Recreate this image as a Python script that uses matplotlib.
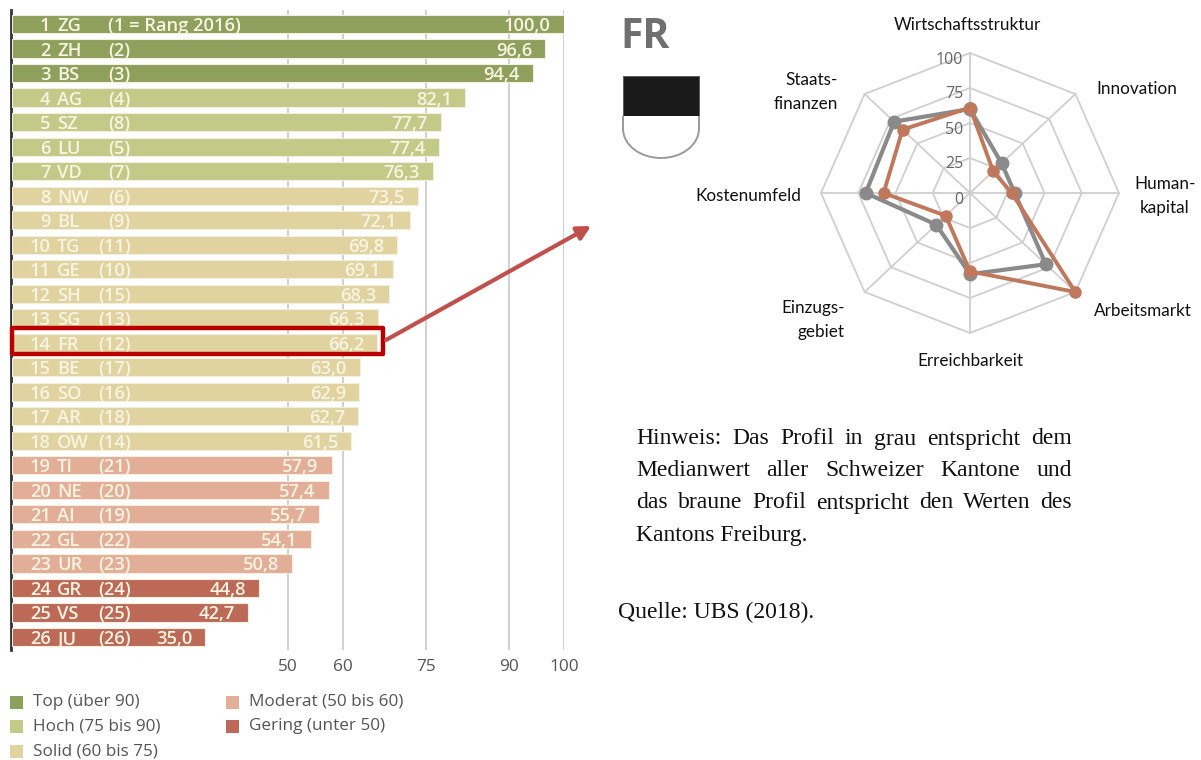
import matplotlib
matplotlib.use("Agg")
import matplotlib.pyplot as plt
import numpy as np
from matplotlib.patches import Rectangle, PathPatch
from matplotlib.path import Path

codes = ["ZG","ZH","BS","AG","SZ","LU","VD","NW","BL","TG","GE","SH","SG","FR","BE","SO","AR","OW","TI","NE","AI","GL","UR","GR","VS","JU"]
prev_ranks = [1,2,3,4,8,5,7,6,9,11,10,15,13,12,17,16,18,14,21,20,19,22,23,24,25,26]
values = [100.0,96.6,94.4,82.1,77.7,77.4,76.3,73.5,72.1,69.8,69.1,68.3,66.3,66.2,63.0,62.9,62.7,61.5,57.9,57.4,55.7,54.1,50.8,44.8,42.7,35.0]
x_ticks = [50,60,75,90,100]

legend_labels = ["Top (über 90)","Hoch (75 bis 90)","Solid (60 bis 75)","Moderat (50 bis 60)","Gering (unter 50)"]
legend_colors = ["#8F9F5C","#C3C986","#E0D39F","#E3AE97","#BC6A57"]

radar_labels = ["Wirtschaftsstruktur","Innovation","Human-\nkapital","Arbeitsmarkt","Erreichbarkeit","Einzugs-\ngebiet","Kostenumfeld","Staats-\nfinanzen"]
median_profile = [60,30,30,72,58,32,70,72]
fr_profile = [61,22,28,100,56,23,58,64]
radar_ticks = [0,25,50,75,100]

note_lines = ["Hinweis: Das Profil in grau entspricht dem",
              "Medianwert aller Schweizer Kantone und",
              "das braune Profil entspricht den Werten des",
              "Kantons Freiburg."]
source = "Quelle: UBS (2018)."

W, H = 1201, 760
PX = 72/100
fig = plt.figure(figsize=(W/100, H/100), dpi=100, facecolor="white")
def rect(l, t, r, b):
    return [l/W, 1-b/H, (r-l)/W, (b-t)/H]

# ---------- bars
ax = fig.add_axes(rect(12, 10, 564, 650))
pitch = 24.52
ax.set_xlim(0, 100)
ax.set_ylim((650-24)/pitch, (10-24)/pitch)
def colour(v):
    if v > 90: return legend_colors[0]
    if v >= 75: return legend_colors[1]
    if v >= 60: return legend_colors[2]
    if v >= 50: return legend_colors[3]
    return legend_colors[4]
ys = np.arange(len(values))
ax.barh(ys, values, height=0.74, color=[colour(v) for v in values],
        edgecolor="#f2efdf", linewidth=0.8, zorder=3)
for s in ("top","right","bottom"):
    ax.spines[s].set_visible(False)
ax.spines["left"].set_color("#333333")
ax.spines["left"].set_linewidth(2)
ax.spines["left"].set_position(("outward", 1))
ax.set_yticks([])
ax.set_xticks(x_ticks)
ax.tick_params(axis="x", length=0, pad=6.5, labelsize=12.4, labelcolor="#555555")
for lab in ax.get_xticklabels():
    lab.set_family("Open Sans")
ax.grid(axis="x", color="#c4c4c4", linewidth=1.1, zorder=0)
ax.set_axisbelow(True)
TXT = "#f8f4e2"
kw = dict(textcoords="offset points", va="center_baseline", color=TXT, family="Open Sans",
          fontsize=13.2, weight="semibold", zorder=5)
for i, (c, p, v) in enumerate(zip(codes, prev_ranks, values)):
    rank = i+1
    two = rank >= 10
    ax.annotate(str(rank), (0, i), xytext=(((30 if two else 40)-12)*PX, 0), ha="left", **kw)
    ax.annotate(c, (0, i), xytext=((57-12)*PX, 0), ha="left", **kw)
    ptxt = f"({p} = Rang 2016)" if i == 0 else f"({p})"
    ax.annotate(ptxt, (0, i), xytext=(((98 if two else 108)-12)*PX, 0), ha="left", **kw)
    ax.annotate(f"{v:.1f}".replace(".", ","), (v, i), xytext=(-13*PX, 0), ha="right", **kw)

# ---------- radar
pax = fig.add_axes(rect(970-149, 193-140, 970+149, 193+140), projection="polar")
pax.set_aspect("auto")
pax.set_theta_zero_location("N")
pax.set_theta_direction(-1)
pax.set_rlim(0, 100)
pax.grid(False)
pax.set_xticks([]); pax.set_yticks([])
pax.spines["polar"].set_visible(False)
pax.patch.set_alpha(0)
n = len(radar_labels)
theta = np.arange(n)*2*np.pi/n
tc = np.append(theta, theta[0])
for r in radar_ticks[1:]:
    pax.plot(tc, [r]*(n+1), color="#cfcfcf", lw=1.3, zorder=1, clip_on=False)
for t in theta:
    pax.plot([t, t], [0, 100], color="#cfcfcf", lw=1.3, zorder=1, clip_on=False)
pax.plot(tc, median_profile+median_profile[:1], color="#8a8a8a", lw=3, marker="o", ms=9, zorder=3, clip_on=False)
pax.plot(tc, fr_profile+fr_profile[:1], color="#C0785C", lw=2.8, marker="o", ms=8, zorder=4, clip_on=False)
for r in radar_ticks:
    pax.annotate(str(r), (0, r), xytext=(-7*PX, -6.5*PX), textcoords="offset points", ha="right", va="center",
                 color="#666666", fontsize=11.5, family="Open Sans", zorder=5)

# ---------- overlay in pixel coordinates
ov = fig.add_axes([0, 0, 1, 1], zorder=10)
ov.set_xlim(0, W); ov.set_ylim(H, 0); ov.axis("off"); ov.patch.set_alpha(0)

ov.add_patch(Rectangle((11.5, 327.5), 371.5, 26, fill=False, ec="#B80000", lw=3.2, joinstyle="round"))
ov.annotate("", xy=(591, 226), xytext=(386, 340),
            arrowprops=dict(arrowstyle="-|>,head_width=0.42,head_length=0.8", color="#C0504D", lw=3, shrinkA=0, shrinkB=0))

# legend
slots = [(10,702),(10,726.5),(10,751),(226,702),(226,726.5)]
for (lx, ly), lab, col in zip(slots, legend_labels, legend_colors):
    ov.add_patch(Rectangle((lx, ly-6.5), 13, 13, fc=col, ec="none"))
    ov.text(lx+23, ly, lab, va="center", ha="left", fontsize=12.3, family="Open Sans", color="#555555")

# FR + shield
ov.text(620, 48, "FR", fontsize=29.5, weight="bold", family="Open Sans", color="#6f6f6f", va="baseline", ha="left")
ov.add_patch(Rectangle((623, 76), 76, 40, fc="#1a1a1a", ec="#555555", lw=0.6))
shield = Path([(623,116),(623,128),(623,146),(641,158),(661,158),(681,158),(699,146),(699,128),(699,116)],
              [Path.MOVETO,Path.LINETO,Path.CURVE4,Path.CURVE4,Path.CURVE4,Path.CURVE4,Path.CURVE4,Path.CURVE4,Path.LINETO])
ov.add_patch(PathPatch(shield, fc="white", ec="#9a9a9a", lw=1.4))

# radar labels
pos = [(967,25,"center"),(1137,89,"center"),(1165,196,"center"),(1143,311,"center"),
       (970,361,"center"),(845,320,"right"),(748,196,"center"),(838,92,"right")]
for lab, (x, y, ha) in zip(radar_labels, pos):
    ov.text(x, y, lab, ha=ha, va="center", fontsize=12.3, family="Lato", color="#111111", linespacing=1.6, multialignment=ha)

# justified note
SERIF = "Liberation Serif"
FS = 17
fig.canvas.draw()
rend = fig.canvas.get_renderer()
def width(s):
    t = ov.text(0, 0, s, fontsize=FS, family=SERIF)
    w = t.get_window_extent(rend).width
    t.remove()
    return w
y0, dy = 439, 32
L, R = 636, 1072
for k, line in enumerate(note_lines):
    words = line.split()
    y = y0 + k*dy
    if k == len(note_lines)-1:
        ov.text(L, y, line, fontsize=FS, family=SERIF, color="#111111", va="center")
        continue
    ws = [width(w) for w in words]
    gap = (R-L-sum(ws))/(len(words)-1)
    x = L
    for w, wd in zip(words, ws):
        ov.text(x, y, w, fontsize=FS, family=SERIF, color="#111111", va="center")
        x += wd+gap
ov.text(618, 612, source, fontsize=FS, family=SERIF, color="#111111", va="center")

fig.savefig("out.png", dpi=100)
